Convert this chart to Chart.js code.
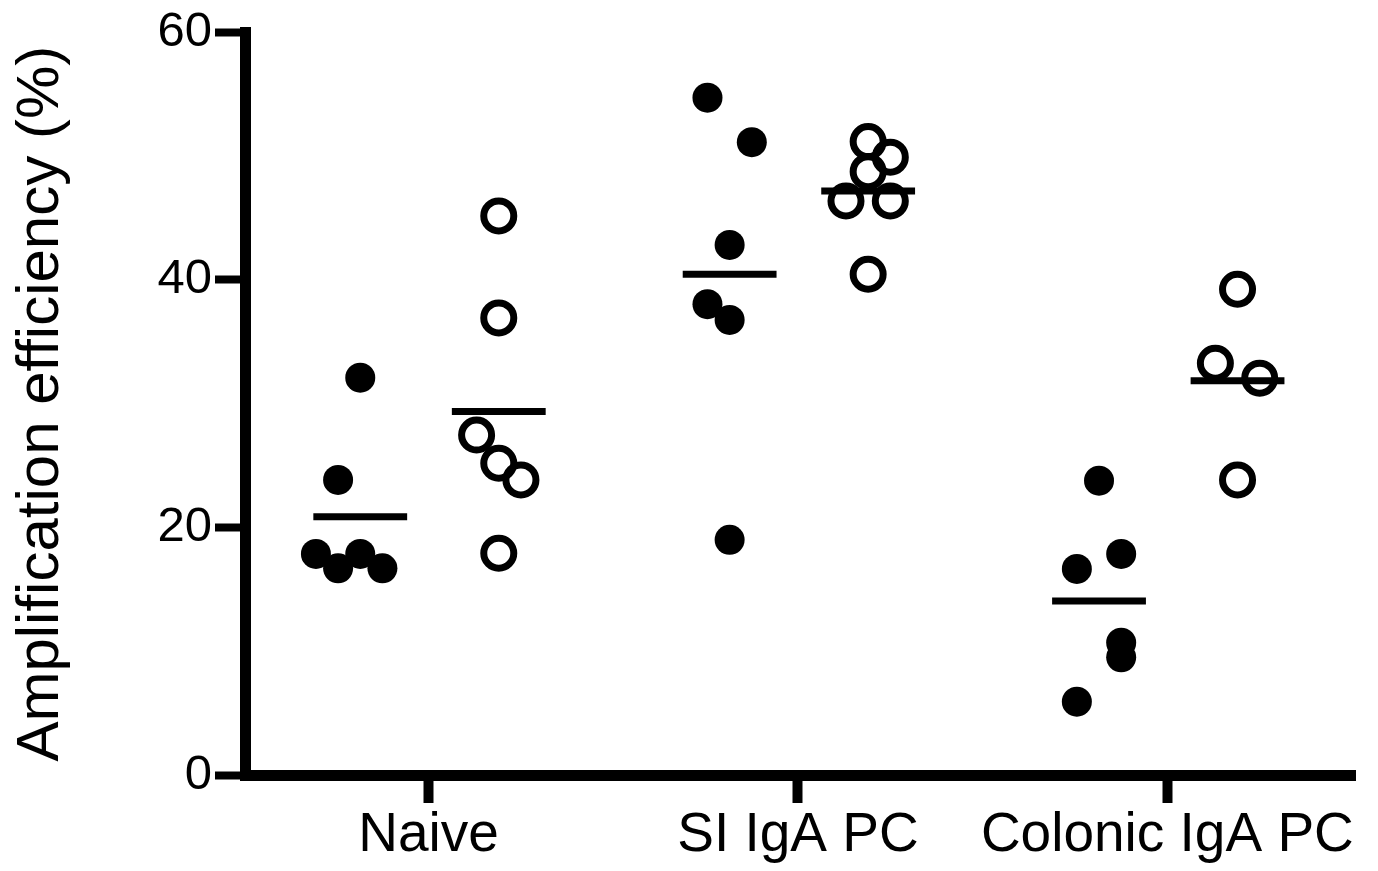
<!DOCTYPE html>
<html>
<head>
<meta charset="utf-8">
<script src="https://cdn.jsdelivr.net/npm/chart.js@4.4.1/dist/chart.umd.min.js"></script>
<style>
  html, body { margin: 0; padding: 0; background: #ffffff; overflow: hidden; }
  canvas { display: block; }
</style>
</head>
<body>
<canvas id="c" width="1378" height="871"></canvas>
<script>
// ---- Data ----
const categories = ['Naive', 'SI IgA PC', 'Colonic IgA PC'];
const yTicks = [0, 20, 40, 60];

// filled circles (first group per category)
const naiveFilled   = [32.1, 23.84, 17.86, 16.7, 17.86, 16.7];
const siFilled      = [54.73, 51.13, 42.83, 38.04, 36.77, 19.0];
const colonicFilled = [23.78, 17.86, 16.65, 10.69, 9.51, 5.92];

// open circles (second group per category)
const naiveOpen   = [45.17, 36.93, 27.47, 25.19, 23.84, 17.92];
const siOpen      = [51.18, 49.92, 48.75, 46.38, 46.38, 40.46];
const colonicOpen = [39.25, 33.27, 32.06, 23.84];

// horizontal jitter column of each point (as drawn in the reference)
const naiveFilledJitter   = [0, -1, -2, -1, 0, 1];
const siFilledJitter      = [-1, 1, 0, -1, 0, 0];
const colonicFilledJitter = [0, 1, -1, 1, 1, -1];
const naiveOpenJitter     = [0, 0, -1, 0, 1, 0];
const siOpenJitter        = [0, 1, 0, -1, 1, 0];
const colonicOpenJitter   = [0, -1, 1, 0];

// group means (horizontal bars)
const filledMeans = [20.87, 40.46, 14.06];
const openMeans   = [29.36, 47.19, 31.86];

// ---- Layout helpers ----
const FILLED_OFFSET = -0.185;
const OPEN_OFFSET = 0.19;
const JITTER_STEP = 0.06;
const MEAN_HALF = 0.127;
const FONT = "'Liberation Sans', Arial, Helvetica, sans-serif";

function pts(catIndex, offset, values, jitter) {
  return values.map((v, i) => ({ x: catIndex + offset + jitter[i] * JITTER_STEP, y: v }));
}
function meanLine(catIndex, offset, m) {
  return [{ x: catIndex + offset - MEAN_HALF, y: m }, { x: catIndex + offset + MEAN_HALF, y: m }];
}

const filledSets = [
  [naiveFilled, naiveFilledJitter],
  [siFilled, siFilledJitter],
  [colonicFilled, colonicFilledJitter]
];
const openSets = [
  [naiveOpen, naiveOpenJitter],
  [siOpen, siOpenJitter],
  [colonicOpen, colonicOpenJitter]
];

const datasets = [];
filledSets.forEach(([vals, jit], i) => {
  datasets.push({
    type: 'scatter',
    label: categories[i] + ' filled',
    data: pts(i, FILLED_OFFSET, vals, jit),
    pointRadius: 15,
    pointHoverRadius: 15,
    backgroundColor: '#000',
    borderWidth: 0,
    pointBorderWidth: 0
  });
});
openSets.forEach(([vals, jit], i) => {
  datasets.push({
    type: 'scatter',
    label: categories[i] + ' open',
    data: pts(i, OPEN_OFFSET, vals, jit),
    pointRadius: 15,
    pointHoverRadius: 15,
    backgroundColor: 'rgba(0,0,0,0)',
    borderColor: '#000',
    pointBorderWidth: 7,
    borderWidth: 7
  });
});
filledMeans.forEach((m, i) => {
  datasets.push({
    type: 'line',
    label: categories[i] + ' filled mean',
    data: meanLine(i, FILLED_OFFSET, m),
    borderColor: '#000',
    borderWidth: 7,
    pointRadius: 0,
    showLine: true,
    fill: false
  });
});
openMeans.forEach((m, i) => {
  datasets.push({
    type: 'line',
    label: categories[i] + ' open mean',
    data: meanLine(i, OPEN_OFFSET, m),
    borderColor: '#000',
    borderWidth: 7,
    pointRadius: 0,
    showLine: true,
    fill: false
  });
});

new Chart(document.getElementById('c'), {
  type: 'scatter',
  data: { datasets },
  options: {
    responsive: false,
    animation: false,
    devicePixelRatio: 1,
    layout: { padding: { top: 32, right: 23, bottom: 0, left: 0 } },
    plugins: { legend: { display: false }, tooltip: { enabled: false } },
    scales: {
      x: {
        type: 'linear',
        min: -0.497,
        max: 2.508,
        afterFit: (s) => { s.height = 96; },
        afterBuildTicks: (s) => { s.ticks = categories.map((_, i) => ({ value: i })); },
        grid: {
          display: true,
          drawOnChartArea: false,
          drawTicks: true,
          tickLength: 28,
          tickWidth: 10,
          tickColor: '#000',
          lineWidth: 1,
          color: '#000'
        },
        border: { display: true, color: '#000', width: 11 },
        ticks: {
          autoSkip: false,
          maxRotation: 0,
          minRotation: 0,
          padding: 0,
          color: '#000',
          font: { family: FONT, size: 55 },
          callback: (v) => categories[v] !== undefined ? categories[v] : ''
        }
      },
      y: {
        type: 'linear',
        min: 0,
        max: 60,
        afterFit: (s) => { s.width = 245; },
        afterBuildTicks: (s) => { s.ticks = yTicks.map(v => ({ value: v })); },
        grid: {
          display: true,
          drawOnChartArea: false,
          drawTicks: true,
          tickLength: 30,
          tickWidth: 8,
          tickColor: '#000',
          lineWidth: 1,
          color: '#000'
        },
        border: { display: true, color: '#000', width: 11 },
        ticks: {
          padding: 3,
          color: '#000',
          font: { family: FONT, size: 49 }
        },
        title: {
          display: true,
          text: 'Amplification efficiency (%)',
          color: '#000',
          font: { family: FONT, size: 60 },
          padding: { top: 5, bottom: 0 }
        }
      }
    }
  }
});
</script>
</body>
</html>
